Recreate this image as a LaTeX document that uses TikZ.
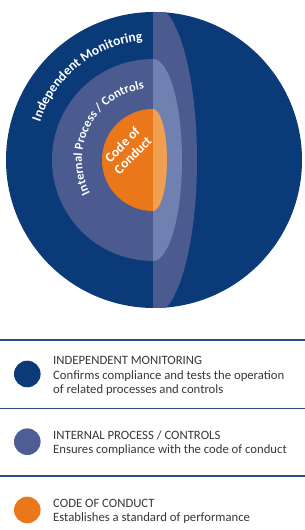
\documentclass[tikz,border=0pt]{standalone}
\usepackage{fontspec}
\setmainfont{Carlito}
\usetikzlibrary{decorations.text}
\definecolor{navy}{HTML}{0B3A78}
\definecolor{band}{HTML}{4B5A8F}
\definecolor{lightband}{HTML}{7080B0}
\definecolor{orng}{HTML}{EA781A}
\definecolor{lorng}{HTML}{F0A050}
\definecolor{txt}{HTML}{383838}
\definecolor{rulec}{HTML}{2A4A8A}
\definecolor{legmid}{HTML}{4F5D96}
\begin{document}
\begin{tikzpicture}[x=1pt,y=1pt,
  legtext/.style={anchor=base west,inner sep=0,text=txt,font=\fontsize{12.7}{14.3}\selectfont},
  legdot/.style={circle,inner sep=0,minimum size=26.6pt},
  rulestyle/.style={rulec,line width=1.3pt}]
\useasboundingbox (0,0) rectangle (305,530);
\fill[white] (0,0) rectangle (305,530);
% sphere
\fill[navy] (154,370) circle[radius=148];
\begin{scope}
\clip (154,370) circle[radius=148];
\fill[band] (153,525) arc[start angle=90,end angle=-90,x radius=44,y radius=155] -- cycle;
\end{scope}
\fill[band] (153,471) arc[start angle=90,end angle=270,radius=101] -- cycle;
\fill[lightband] (153,471) arc[start angle=90,end angle=-90,x radius=29,y radius=101] -- cycle;
\fill[orng] (153,421) arc[start angle=90,end angle=270,radius=51] -- cycle;
\fill[lorng] (153,421) arc[start angle=90,end angle=-90,x radius=14,y radius=51] -- cycle;
% curved labels
\path[decorate,decoration={text along path,text align=center,
  text={|\color{white}\bfseries\fontsize{13.5}{16}\selectfont|Independent Monitoring}}]
  (154,370) ++(173.5:120) arc[start angle=173.5,end angle=83.5,radius=120];
\path[decorate,decoration={text along path,text align=center,
  text={|\color{white}\bfseries\fontsize{12.5}{15}\selectfont|Internal Process / Controls}}]
  (154,370) ++(222.5:72) arc[start angle=222.5,end angle=82.5,radius=72];
\node[rotate=45,align=center,inner sep=0,text=white,font=\bfseries\fontsize{13.5}{15}\selectfont] (coc) at (127.5,380) {Code of\\Conduct};
% legend
\draw[rulestyle] (0,190) -- (305,190);
\draw[rulestyle] (0,121.7) -- (305,121.7);
\draw[rulestyle] (0,54) -- (305,54);
\node[legdot,fill=navy] (d1) at (27.3,156) {};
\node[legdot,fill=legmid] (d2) at (27.3,88.3) {};
\node[legdot,fill=orng] (d3) at (27.3,20) {};
\node[legtext] (h1) at (53,165) {INDEPENDENT MONITORING};
\node[legtext] (t1a) at (53,150.7) {Confirms compliance and tests the operation};
\node[legtext] (t1b) at (53,136.5) {of related processes and controls};
\node[legtext] (h2) at (53,90) {INTERNAL PROCESS / CONTROLS};
\node[legtext] (t2) at (53,76.5) {Ensures compliance with the code of conduct};
\node[legtext] (h3) at (53,22.3) {CODE OF CONDUCT};
\node[legtext] (t3) at (53,8.3) {Establishes a standard of performance};
\end{tikzpicture}
\end{document}
